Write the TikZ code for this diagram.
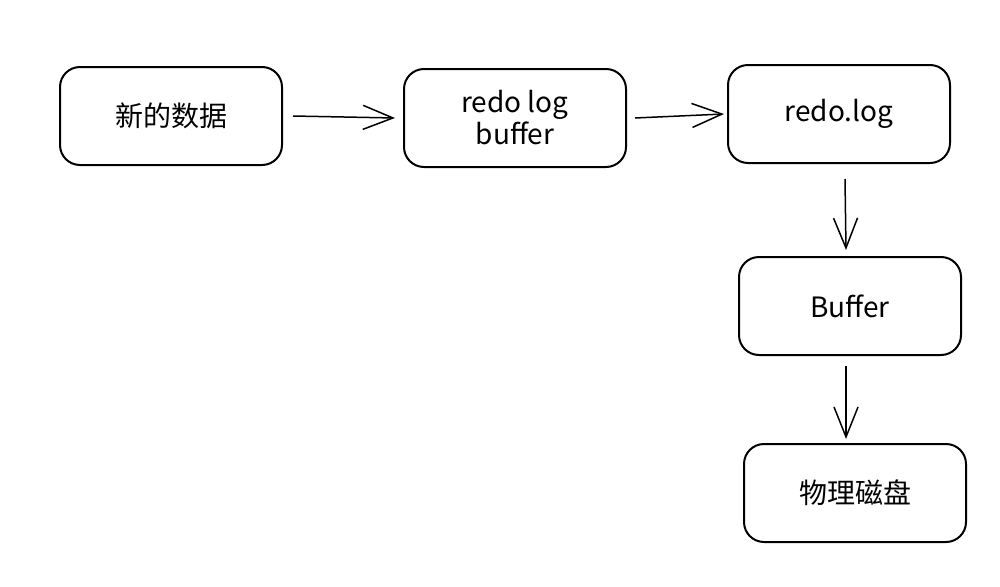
\documentclass[tikz,border=0pt]{standalone}
\usepackage{fontspec}
\setmainfont{Noto Sans CJK SC}
\usetikzlibrary{arrows.meta}
\begin{document}
\begin{tikzpicture}[x=1pt,y=-1pt,
  box/.style={draw=black,line width=2pt,rounded corners=20pt,minimum width=222pt,minimum height=98pt,inner sep=0pt,font=\fontsize{28}{32}\selectfont,align=center},
  conn/.style={line width=1.5pt,-{Straight Barb[length=30pt,width=24pt,line width=1.5pt]}}
]
\useasboundingbox (0,0) rectangle (1000,586);
\node[box] (a) at (171,116) {新的数据};
\node[box] (b) at (515,118) {redo log\\buffer};
\node[box] (c) at (839,114) {redo.log};
\node[box] (d) at (850,306) {Buffer};
\node[box] (e) at (855,493) {物理磁盘};
\draw[conn] ([xshift=10pt]a.east) -- ([xshift=-8pt]b.west);
\draw[conn] ([xshift=8pt]b.east) -- ([xshift=-3pt]c.west);
\draw[conn] ([xshift=6pt,yshift=-15pt]c.south) -- ([xshift=-4pt,yshift=6pt]d.north);
\draw[conn] ([xshift=-4pt,yshift=-10pt]d.south) -- ([xshift=-9pt,yshift=4pt]e.north);
\end{tikzpicture}
\end{document}
